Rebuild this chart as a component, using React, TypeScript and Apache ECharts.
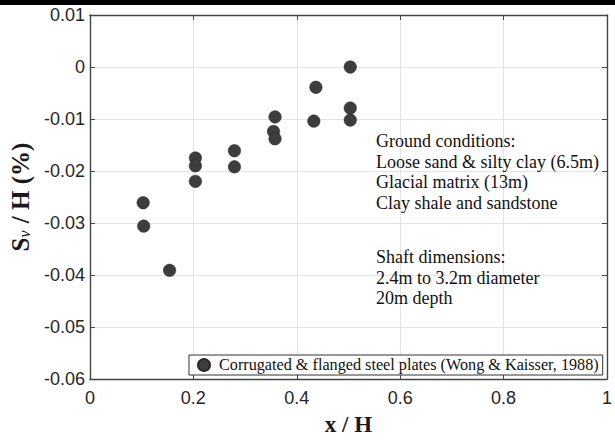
import React, { useEffect, useRef } from "react";
import * as echarts from "echarts";

const xPositions = [0.103, 0.104, 0.154, 0.204, 0.204, 0.204, 0.2795, 0.2795, 0.358, 0.355, 0.358, 0.437, 0.433, 0.5035, 0.5035, 0.5035];
const settlements = [-0.0261, -0.0306, -0.0391, -0.0175, -0.019, -0.022, -0.0161, -0.0192, -0.0096, -0.0124, -0.0138, -0.0039, -0.0104, 0.0, -0.0079, -0.0102];
const seriesName = "Corrugated & flanged steel plates (Wong & Kaisser, 1988)";
const groundLines = ["Ground conditions:", "Loose sand & silty clay (6.5m)", "Glacial matrix (13m)", "Clay shale and sandstone"];
const shaftLines = ["Shaft dimensions:", "2.4m to 3.2m diameter", "20m depth"];

const AXIS = "#444444";
const SERIF = "'Liberation Serif', 'Times New Roman', serif";
const SANS = "'Liberation Sans', Arial, Helvetica, sans-serif";

export default function App() {
  const ref = useRef<HTMLDivElement>(null);
  useEffect(() => {
    if (!ref.current) return;
    const chart = echarts.init(ref.current, undefined, { renderer: "svg" });
    const data = xPositions.map((x, i) => [x, settlements[i]]);
    const fmtY = (v: number) => String(Number(v.toFixed(2)));
    const tickStyle = { show: true, inside: true, length: 5, lineStyle: { color: AXIS, width: 1 } };
    chart.setOption({
      animation: false,
      backgroundColor: "#ffffff",
      grid: { left: 86, right: 2, top: 15, bottom: 56, containLabel: false },
      xAxis: [
        {
          type: "value", min: 0, max: 1, interval: 0.2, position: "bottom",
          axisLine: { show: true, onZero: false, lineStyle: { color: AXIS, width: 1.4 } },
          axisTick: tickStyle,
          axisLabel: { color: "#262626", fontSize: 18, fontFamily: SANS, margin: 10 },
          splitLine: { show: true, lineStyle: { color: "#e3e3e3", width: 1 } },
          name: "x / H", nameLocation: "middle", nameGap: 34,
          nameTextStyle: { fontFamily: SERIF, fontSize: 23, fontWeight: "bold", color: "#1a1a1a" },
        },
        {
          type: "value", min: 0, max: 1, interval: 0.2, position: "top",
          axisLine: { show: true, onZero: false, lineStyle: { color: AXIS, width: 1.4 } },
          axisTick: tickStyle, axisLabel: { show: false }, splitLine: { show: false },
        },
      ],
      yAxis: [
        {
          type: "value", min: -0.06, max: 0.01, interval: 0.01, position: "left",
          axisLine: { show: true, onZero: false, lineStyle: { color: AXIS, width: 1.4 } },
          axisTick: tickStyle,
          axisLabel: { color: "#262626", fontSize: 18, fontFamily: SANS, margin: 5, formatter: fmtY },
          splitLine: { show: true, lineStyle: { color: "#e3e3e3", width: 1 } },
          name: "{a|S}{b|v}{a| / H (%)}", nameLocation: "middle", nameGap: 48,
          nameTextStyle: {
            rich: {
              a: { fontFamily: SERIF, fontSize: 25, lineHeight: 26, fontWeight: "bold", color: "#1a1a1a" },
              b: { fontFamily: SERIF, fontSize: 16, lineHeight: 26, fontStyle: "italic", color: "#1a1a1a", padding: [8, 1, 0, 0] },
            },
          },
        },
        {
          type: "value", min: -0.06, max: 0.01, interval: 0.01, position: "right",
          axisLine: { show: true, onZero: false, lineStyle: { color: AXIS, width: 1.4 } },
          axisTick: tickStyle, axisLabel: { show: false }, splitLine: { show: false },
        },
      ],
      legend: {
        data: [seriesName], left: 189, top: 355, orient: "horizontal",
        padding: [2, 4, 2, 8], borderColor: "#333333", borderWidth: 1, backgroundColor: "#ffffff",
        itemWidth: 12, itemHeight: 12, icon: "circle",
        textStyle: { fontFamily: SERIF, fontSize: 16.2, color: "#111111", padding: [0, 0, 0, 4] },
      },
      graphic: [
        { type: "rect", shape: { x: 0, y: 0, width: 615, height: 5 }, style: { fill: "#000000" }, z: 100 },
        {
          type: "text", x: 376, y: 131,
          style: { text: groundLines.join("\n"), fontFamily: SERIF, fontSize: 18, lineHeight: 20.5, fill: "#111111" },
          z: 100,
        },
        {
          type: "text", x: 376, y: 247,
          style: { text: shaftLines.join("\n"), fontFamily: SERIF, fontSize: 18, lineHeight: 20.5, fill: "#111111" },
          z: 100,
        },
      ],
      series: [
        {
          name: seriesName, type: "scatter", xAxisIndex: 0, yAxisIndex: 0, data,
          symbol: "circle", symbolSize: 12.5,
          itemStyle: { color: "#3d3d3d", borderColor: "#2a2a2a", borderWidth: 0.5, opacity: 1 },
        },
      ],
    });
    return () => chart.dispose();
  }, []);
  return <div ref={ref} style={{ position: "fixed", left: 0, top: 0, width: 615, height: 441 }} />;
}
